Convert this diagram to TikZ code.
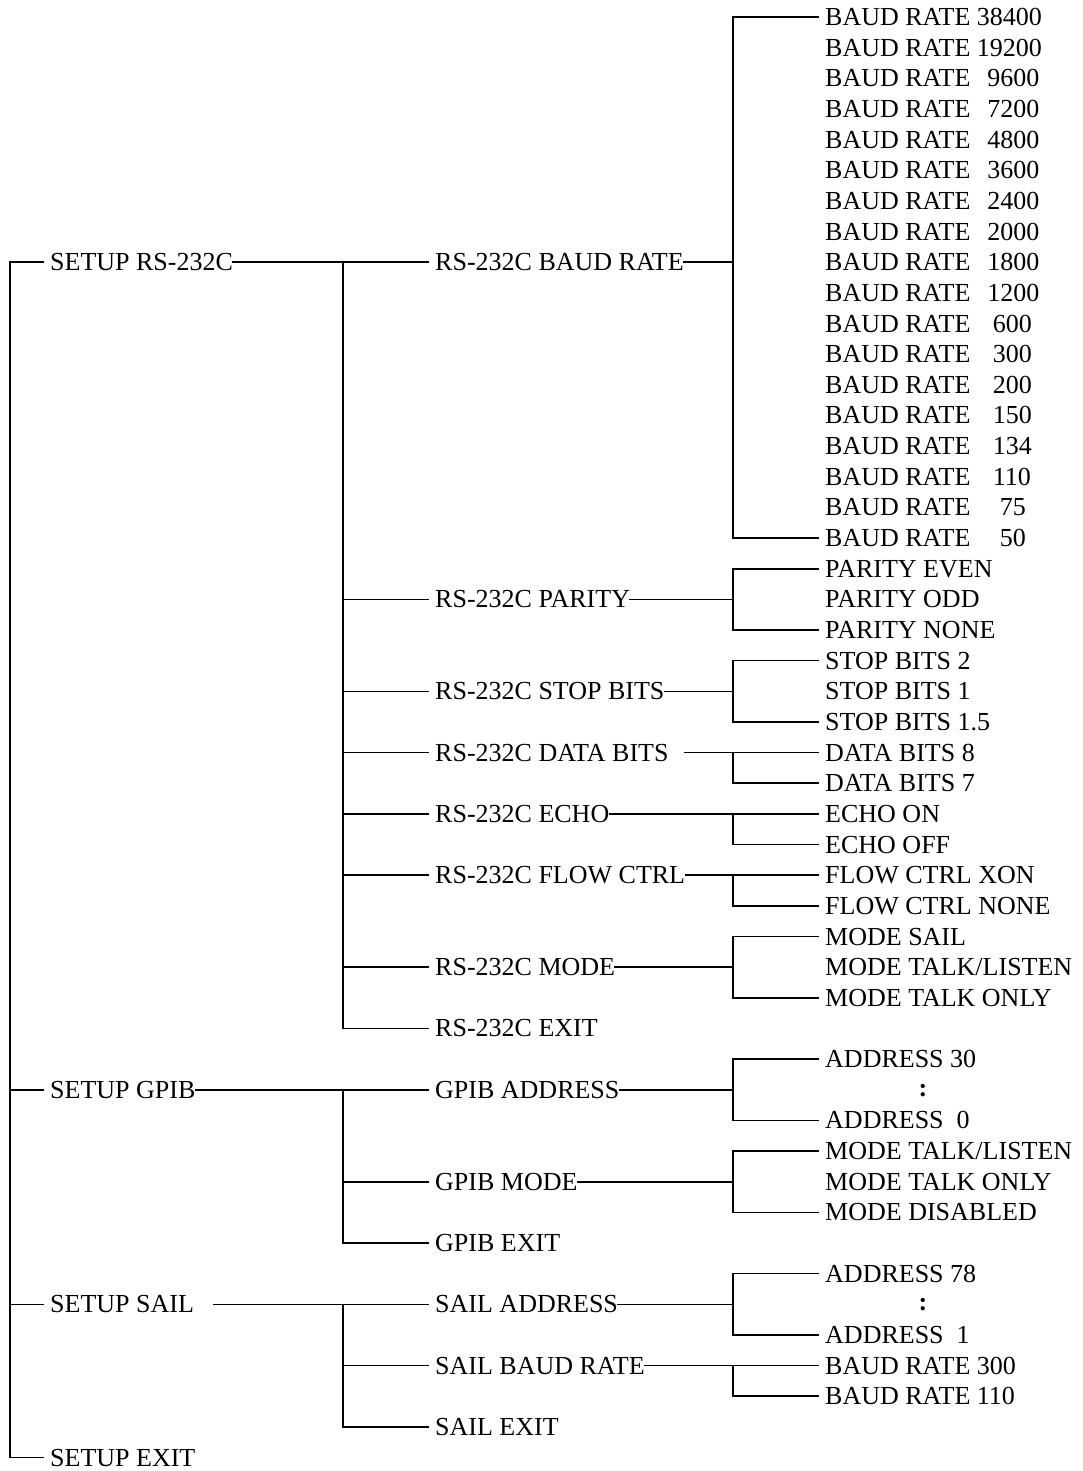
\documentclass[tikz,border=0pt]{standalone}
\usepackage{fontspec}
\setmainfont{Liberation Serif}
\newcommand\rowy[1]{17+30.65*#1}
\newcommand\brate[2]{BAUD RATE\hspace{#1}#2}
\tikzset{
  lbl/.style={anchor=west, inner xsep=0pt, inner ysep=0pt, text height=17pt, text depth=0pt, font=\fontsize{26}{30}\selectfont},
  conn/.style={line width=1.6pt, line cap=rect},
}
\begin{document}
\begin{tikzpicture}[x=1pt,y=-1pt]
\useasboundingbox (0,0) rectangle (1083,1471);
\fill[white] (0,0) rectangle (1083,1471);
\coordinate (X0) at (10,0);
\coordinate (X1) at (343,0);
\coordinate (X2) at (733,0);
% level 0
\node[lbl] (s1) at (50,{\rowy{8}}) {SETUP RS-232C};
\node[lbl] (s2) at (50,{\rowy{35}}) {SETUP GPIB};
\node[lbl] (s3) at (50,{\rowy{42}}) {SETUP SAIL};
\node[lbl] (s4) at (50,{\rowy{47}}) {SETUP EXIT};
% level 1
\node[lbl] (r1) at (435,{\rowy{8}}) {RS-232C BAUD RATE};
\node[lbl] (r2) at (435,{\rowy{19}}) {RS-232C PARITY};
\node[lbl] (r3) at (435,{\rowy{22}}) {RS-232C STOP BITS};
\node[lbl] (r4) at (435,{\rowy{24}}) {RS-232C DATA BITS};
\node[lbl] (r5) at (435,{\rowy{26}}) {RS-232C ECHO};
\node[lbl] (r6) at (435,{\rowy{28}}) {RS-232C FLOW CTRL};
\node[lbl] (r7) at (435,{\rowy{31}}) {RS-232C MODE};
\node[lbl] (r8) at (435,{\rowy{33}}) {RS-232C EXIT};
\node[lbl] (g1) at (435,{\rowy{35}}) {GPIB ADDRESS};
\node[lbl] (g2) at (435,{\rowy{38}}) {GPIB MODE};
\node[lbl] (g3) at (435,{\rowy{40}}) {GPIB EXIT};
\node[lbl] (a1) at (435,{\rowy{42}}) {SAIL ADDRESS};
\node[lbl] (a2) at (435,{\rowy{44}}) {SAIL BAUD RATE};
\node[lbl] (a3) at (435,{\rowy{46}}) {SAIL EXIT};
% level 2 : baud rates
\node[lbl] (b1) at (825,{\rowy{0}}) {\brate{6.5pt}{38400}};
\node[lbl] (b2) at (825,{\rowy{1}}) {\brate{6.5pt}{19200}};
\node[lbl] (b3) at (825,{\rowy{2}}) {\brate{17pt}{9600}};
\node[lbl] (b4) at (825,{\rowy{3}}) {\brate{17pt}{7200}};
\node[lbl] (b5) at (825,{\rowy{4}}) {\brate{17pt}{4800}};
\node[lbl] (b6) at (825,{\rowy{5}}) {\brate{17pt}{3600}};
\node[lbl] (b7) at (825,{\rowy{6}}) {\brate{17pt}{2400}};
\node[lbl] (b8) at (825,{\rowy{7}}) {\brate{17pt}{2000}};
\node[lbl] (b9) at (825,{\rowy{8}}) {\brate{17pt}{1800}};
\node[lbl] (b10) at (825,{\rowy{9}}) {\brate{17pt}{1200}};
\node[lbl] (b11) at (825,{\rowy{10}}) {\brate{22.5pt}{600}};
\node[lbl] (b12) at (825,{\rowy{11}}) {\brate{22.5pt}{300}};
\node[lbl] (b13) at (825,{\rowy{12}}) {\brate{22.5pt}{200}};
\node[lbl] (b14) at (825,{\rowy{13}}) {\brate{22.5pt}{150}};
\node[lbl] (b15) at (825,{\rowy{14}}) {\brate{22.5pt}{134}};
\node[lbl] (b16) at (825,{\rowy{15}}) {\brate{22.5pt}{110}};
\node[lbl] (b17) at (825,{\rowy{16}}) {\brate{29.5pt}{75}};
\node[lbl] (b18) at (825,{\rowy{17}}) {\brate{29.5pt}{50}};
% parity
\node[lbl] (p1) at (825,{\rowy{18}}) {PARITY EVEN};
\node[lbl] (p2) at (825,{\rowy{19}}) {PARITY ODD};
\node[lbl] (p3) at (825,{\rowy{20}}) {PARITY NONE};
% stop bits
\node[lbl] (t1) at (825,{\rowy{21}}) {STOP BITS 2};
\node[lbl] (t2) at (825,{\rowy{22}}) {STOP BITS 1};
\node[lbl] (t3) at (825,{\rowy{23}}) {STOP BITS 1.5};
% data bits
\node[lbl] (d1) at (825,{\rowy{24}}) {DATA BITS 8};
\node[lbl] (d2) at (825,{\rowy{25}}) {DATA BITS 7};
% echo
\node[lbl] (e1) at (825,{\rowy{26}}) {ECHO ON};
\node[lbl] (e2) at (825,{\rowy{27}}) {ECHO OFF};
% flow
\node[lbl] (f1) at (825,{\rowy{28}}) {FLOW CTRL XON};
\node[lbl] (f2) at (825,{\rowy{29}}) {FLOW CTRL NONE};
% mode
\node[lbl] (m1) at (825,{\rowy{30}}) {MODE SAIL};
\node[lbl] (m2) at (825,{\rowy{31}}) {MODE TALK/LISTEN};
\node[lbl] (m3) at (825,{\rowy{32}}) {MODE TALK ONLY};
% gpib address
\node[lbl] (ga1) at (825,{\rowy{34}}) {ADDRESS 30};
\node[lbl, anchor=center] (ga2) at (923,{\rowy{35}-2}) {\textbf{:}};
\node[lbl] (ga3) at (825,{\rowy{36}}) {ADDRESS\ \ 0};
% gpib mode
\node[lbl] (gm1) at (825,{\rowy{37}}) {MODE TALK/LISTEN};
\node[lbl] (gm2) at (825,{\rowy{38}}) {MODE TALK ONLY};
\node[lbl] (gm3) at (825,{\rowy{39}}) {MODE DISABLED};
% sail address
\node[lbl] (sa1) at (825,{\rowy{41}}) {ADDRESS 78};
\node[lbl, anchor=center] (sa2) at (923,{\rowy{42}-2}) {\textbf{:}};
\node[lbl] (sa3) at (825,{\rowy{43}}) {ADDRESS\ \ 1};
% sail baud
\node[lbl] (sb1) at (825,{\rowy{44}}) {BAUD RATE 300};
\node[lbl] (sb2) at (825,{\rowy{45}}) {BAUD RATE 110};

% ---------- connectors ----------
% level 0 spine
\draw[conn] ([xshift=-7pt]s1.west) -- (s1.west -| X0) -- (s4.west -| X0) -- ([xshift=-7pt]s4.west);
\draw[conn] ([xshift=-7pt]s2.west) -- (s2.west -| X0);
\draw[conn] ([xshift=-7pt]s3.west) -- (s3.west -| X0);
% RS-232C group
\draw[conn] (s1.east) -- ([xshift=-7pt]r1.west);
\draw[conn] (r1.west -| X1) -- (r8.west -| X1) -- ([xshift=-7pt]r8.west);
\foreach \n in {r2,r3,r4,r5,r6,r7}
  \draw[conn] ([xshift=-7pt]\n.west) -- (\n.west -| X1);
% GPIB group
\draw[conn] (s2.east) -- ([xshift=-7pt]g1.west);
\draw[conn] (g1.west -| X1) -- (g3.west -| X1) -- ([xshift=-7pt]g3.west);
\draw[conn] ([xshift=-7pt]g2.west) -- (g2.west -| X1);
% SAIL group
\draw[conn] ([xshift=20pt]s3.east) -- ([xshift=-7pt]a1.west);
\draw[conn] (a1.west -| X1) -- (a3.west -| X1) -- ([xshift=-7pt]a3.west);
\draw[conn] ([xshift=-7pt]a2.west) -- (a2.west -| X1);
% level 2 groups
\draw[conn] (r1.east) -- (r1.east -| X2);
\draw[conn] ([xshift=-7pt]b1.west) -- (b1.west -| X2) -- (b18.west -| X2) -- ([xshift=-7pt]b18.west);
\draw[conn] (r2.east) -- (r2.east -| X2);
\draw[conn] ([xshift=-7pt]p1.west) -- (p1.west -| X2) -- (p3.west -| X2) -- ([xshift=-7pt]p3.west);
\draw[conn] (r3.east) -- (r3.east -| X2);
\draw[conn] ([xshift=-7pt]t1.west) -- (t1.west -| X2) -- (t3.west -| X2) -- ([xshift=-7pt]t3.west);
\draw[conn] ([xshift=16pt]r4.east) -- ([xshift=-7pt]d1.west);
\draw[conn] (d1.west -| X2) -- (d2.west -| X2) -- ([xshift=-7pt]d2.west);
\draw[conn] (r5.east) -- ([xshift=-7pt]e1.west);
\draw[conn] (e1.west -| X2) -- (e2.west -| X2) -- ([xshift=-7pt]e2.west);
\draw[conn] (r6.east) -- ([xshift=-7pt]f1.west);
\draw[conn] (f1.west -| X2) -- (f2.west -| X2) -- ([xshift=-7pt]f2.west);
\draw[conn] (r7.east) -- (r7.east -| X2);
\draw[conn] ([xshift=-7pt]m1.west) -- (m1.west -| X2) -- (m3.west -| X2) -- ([xshift=-7pt]m3.west);
\draw[conn] (g1.east) -- (g1.east -| X2);
\draw[conn] ([xshift=-7pt]ga1.west) -- (ga1.west -| X2) -- (ga3.west -| X2) -- ([xshift=-7pt]ga3.west);
\draw[conn] (g2.east) -- (g2.east -| X2);
\draw[conn] ([xshift=-7pt]gm1.west) -- (gm1.west -| X2) -- (gm3.west -| X2) -- ([xshift=-7pt]gm3.west);
\draw[conn] (a1.east) -- (a1.east -| X2);
\draw[conn] ([xshift=-7pt]sa1.west) -- (sa1.west -| X2) -- (sa3.west -| X2) -- ([xshift=-7pt]sa3.west);
\draw[conn] (a2.east) -- ([xshift=-7pt]sb1.west);
\draw[conn] (sb1.west -| X2) -- (sb2.west -| X2) -- ([xshift=-7pt]sb2.west);
\end{tikzpicture}
\end{document}
